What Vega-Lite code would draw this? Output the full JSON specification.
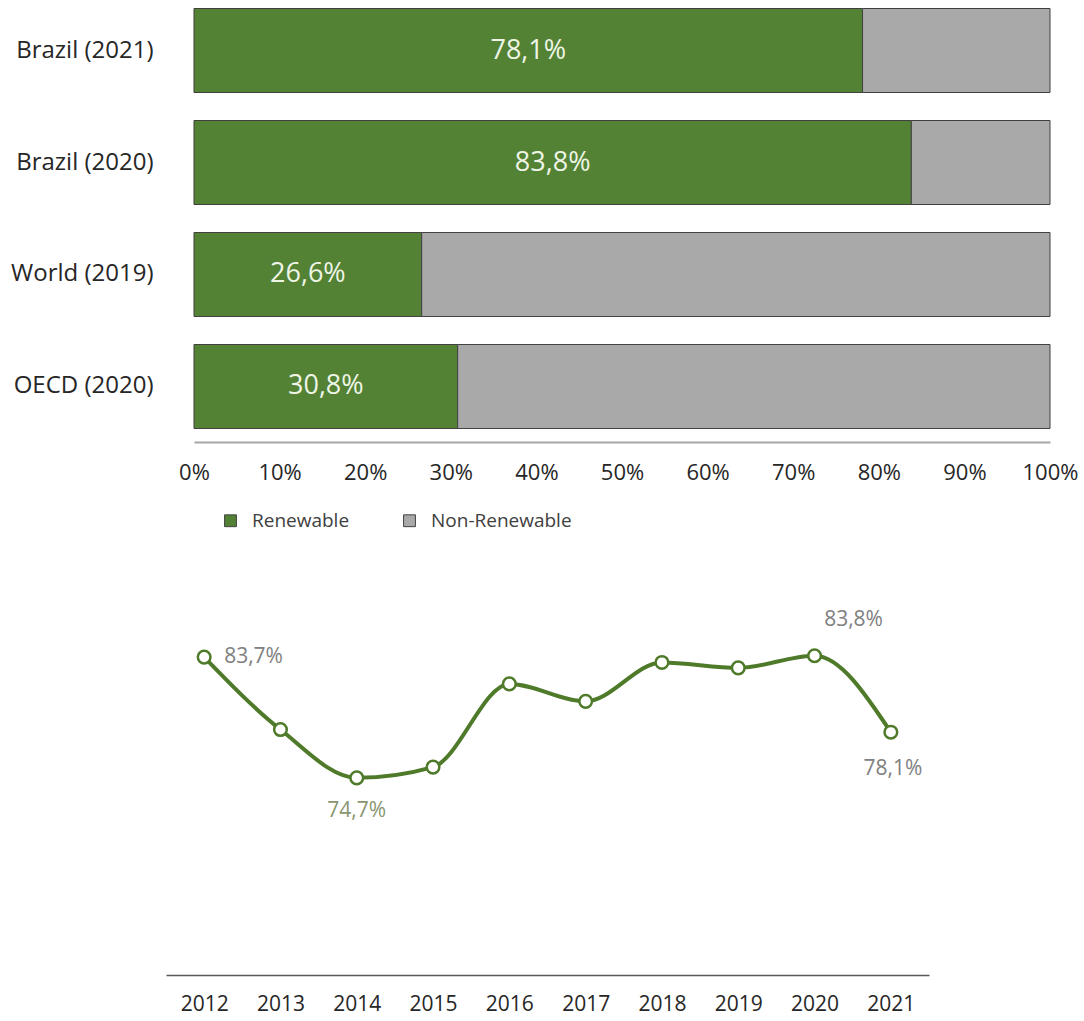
{
  "$schema": "https://vega.github.io/schema/vega-lite/v6.json",
  "background": "white",
  "padding": {"left": 10, "top": 0, "right": 5, "bottom": 0},
  "config": {
    "view": {"stroke": null},
    "font": "Open Sans",
    "locale": {"number": {"decimal": ",", "thousands": ".", "grouping": [3], "currency": ["", ""]}}
  },
  "datasets": {
    "mix": [
      {"region": "Brazil (2021)", "type": "Renewable", "share": 0.781},
      {"region": "Brazil (2021)", "type": "Non-Renewable", "share": 0.219},
      {"region": "Brazil (2020)", "type": "Renewable", "share": 0.838},
      {"region": "Brazil (2020)", "type": "Non-Renewable", "share": 0.162},
      {"region": "World (2019)", "type": "Renewable", "share": 0.266},
      {"region": "World (2019)", "type": "Non-Renewable", "share": 0.734},
      {"region": "OECD (2020)", "type": "Renewable", "share": 0.308},
      {"region": "OECD (2020)", "type": "Non-Renewable", "share": 0.692}
    ],
    "series": [
      {"year": 2012, "share": 0.837},
      {"year": 2013, "share": 0.783},
      {"year": 2014, "share": 0.747},
      {"year": 2015, "share": 0.755},
      {"year": 2016, "share": 0.817},
      {"year": 2017, "share": 0.804},
      {"year": 2018, "share": 0.833},
      {"year": 2019, "share": 0.829},
      {"year": 2020, "share": 0.838},
      {"year": 2021, "share": 0.781}
    ]
  },
  "vconcat": [
    {
      "width": 884,
      "height": 437,
      "data": {"name": "mix"},
      "layer": [
        {
          "mark": {"type": "bar", "stroke": "#404040", "strokeWidth": 1},
          "encoding": {
            "y": {
              "field": "region", "type": "nominal",
              "sort": ["Brazil (2021)", "Brazil (2020)", "World (2019)", "OECD (2020)"],
              "scale": {"paddingInner": 0.25, "paddingOuter": 0.076},
              "axis": {"title": null, "domain": false, "ticks": false, "labelFontSize": 24, "labelColor": "#262626", "labelPadding": 13}
            },
            "x": {
              "field": "share", "type": "quantitative", "stack": "zero",
              "scale": {"domain": [-0.0327, 1], "nice": false, "zero": false},
              "axis": {"title": null, "format": "%", "values": [0, 0.1, 0.2, 0.3, 0.4, 0.5, 0.6, 0.7, 0.8, 0.9, 1],
                "grid": false, "ticks": false, "domainColor": "#a6a6a6", "domainWidth": 2, "domainDash": [0, 28, 900, 0], "offset": 5,
                "labelFontSize": 22, "labelPadding": 20, "labelColor": "#262626", "labelFlush": false}
            },
            "order": {"field": "type", "type": "ordinal", "sort": "descending"},
            "color": {
              "field": "type", "type": "nominal", "sort": ["Renewable", "Non-Renewable"],
              "scale": {"domain": ["Renewable", "Non-Renewable"], "range": ["#548235", "#a9a9a9"]},
              "legend": {"title": null, "orient": "none", "legendX": 55, "legendY": 511, "direction": "horizontal",
                "symbolType": "square", "symbolSize": 140, "symbolStrokeColor": "#404040", "symbolStrokeWidth": 1,
                "labelFontSize": 19, "labelColor": "#404040", "columnPadding": 50, "labelOffset": 12}
            }
          }
        },
        {
          "transform": [{"filter": "datum.type === 'Renewable'"}],
          "mark": {"type": "text", "fontSize": 27, "color": "#eef5e6"},
          "encoding": {
            "y": {"field": "region", "type": "nominal", "sort": ["Brazil (2021)", "Brazil (2020)", "World (2019)", "OECD (2020)"]},
            "x": {"field": "share", "type": "quantitative", "scale": {"domain": [-0.0654, 2], "nice": false, "zero": false}, "axis": null},
            "text": {"field": "share", "type": "quantitative", "format": ".1%"}
          }
        }
      ],
      "resolve": {"scale": {"x": "independent"}}
    },
    {
      "width": 763,
      "height": 389,
      "data": {"name": "series"},
      "encoding": {
        "x": {"field": "year", "type": "ordinal", "scale": {"type": "point", "padding": 0.5},
          "axis": {"title": null, "labelAngle": 0, "ticks": false, "domainColor": "#595959", "domainWidth": 1.5,
            "labelFontSize": 21, "labelPadding": 18, "labelColor": "#262626"}},
        "y": {"field": "share", "type": "quantitative", "scale": {"domain": [0.6, 0.89], "nice": false, "zero": false}, "axis": null}
      },
      "layer": [
        {"mark": {"type": "line", "color": "#4e7a2a", "strokeWidth": 4, "interpolate": "monotone"}},
        {"mark": {"type": "point", "filled": true, "fill": "white", "stroke": "#4e7a2a", "strokeWidth": 2.5, "size": 160, "opacity": 1}},
        {
          "transform": [{"filter": "datum.year === 2012"}],
          "mark": {"type": "text", "align": "left", "baseline": "middle", "dx": 20, "fontSize": 21, "color": "#808080"},
          "encoding": {"text": {"field": "share", "type": "quantitative", "format": ".1%"}}
        },
        {
          "transform": [{"filter": "datum.year === 2014"}],
          "mark": {"type": "text", "align": "center", "baseline": "middle", "dy": 33, "fontSize": 21, "color": "#8a9670"},
          "encoding": {"text": {"field": "share", "type": "quantitative", "format": ".1%"}}
        },
        {
          "transform": [{"filter": "datum.year === 2020"}],
          "mark": {"type": "text", "align": "center", "baseline": "middle", "dx": 39, "dy": -36, "fontSize": 21, "color": "#808080"},
          "encoding": {"text": {"field": "share", "type": "quantitative", "format": ".1%"}}
        },
        {
          "transform": [{"filter": "datum.year === 2021"}],
          "mark": {"type": "text", "align": "center", "baseline": "middle", "dx": 2, "dy": 37, "fontSize": 21, "color": "#808080"},
          "encoding": {"text": {"field": "share", "type": "quantitative", "format": ".1%"}}
        }
      ]
    }
  ],
  "align": "none",
  "spacing": 103
}
